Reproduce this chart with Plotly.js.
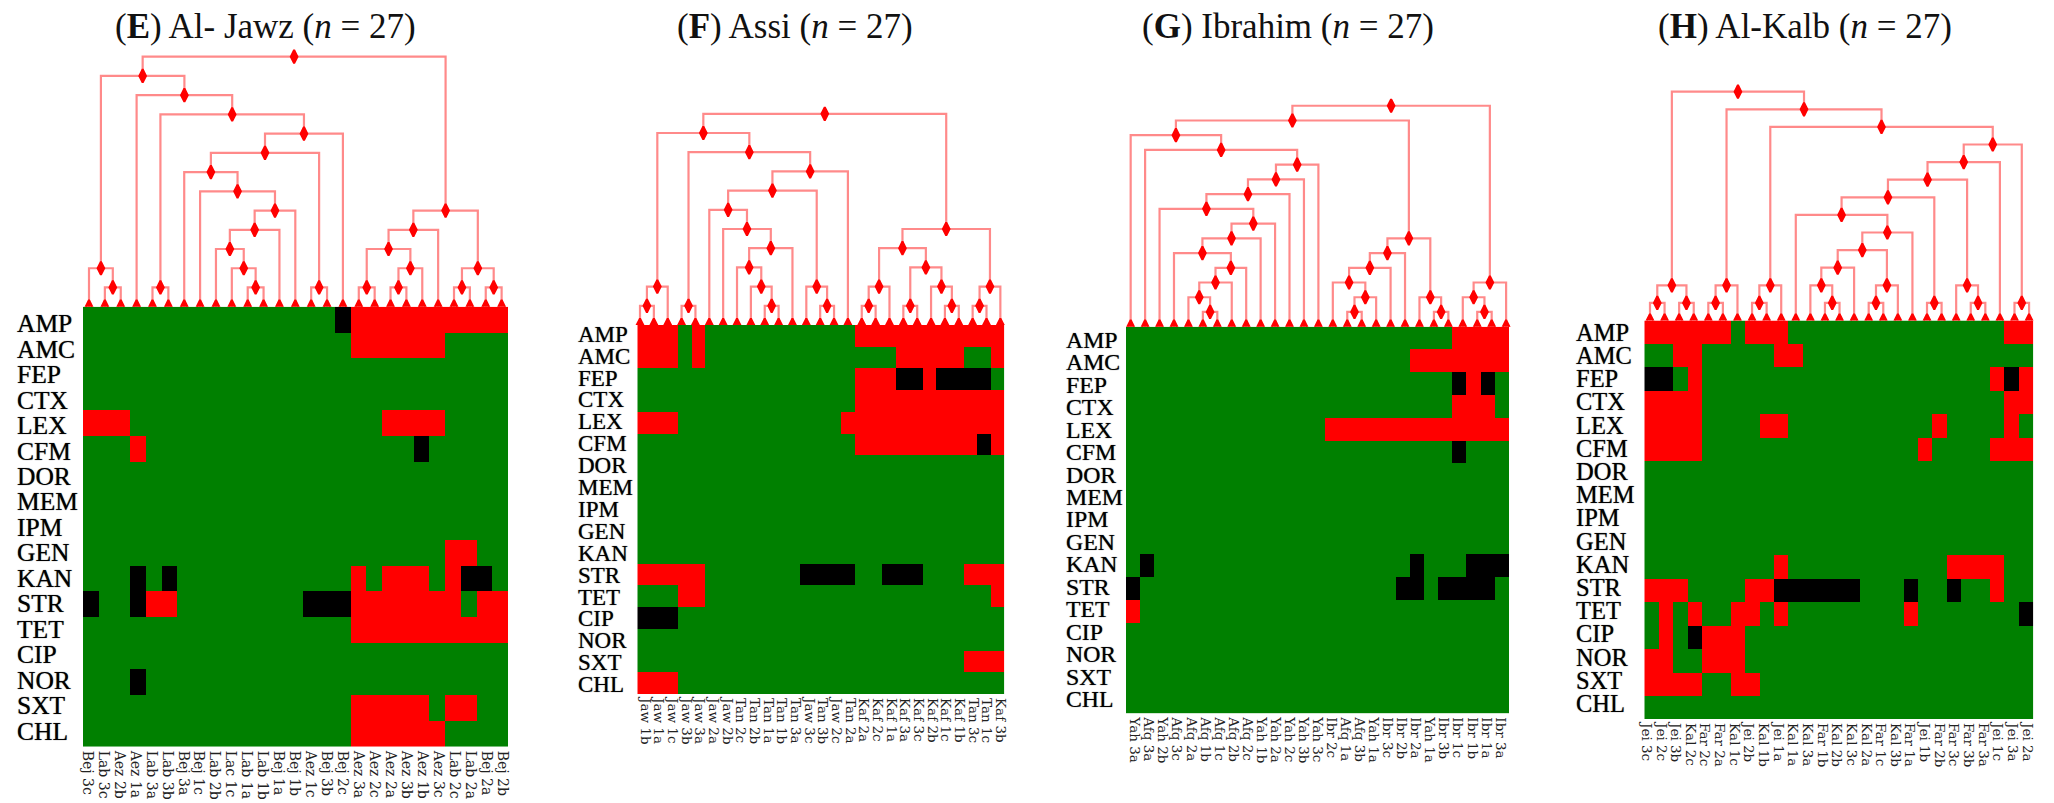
<!DOCTYPE html>
<html><head><meta charset="utf-8">
<script src="https://cdn.plot.ly/plotly-3.0.1.min.js"></script>
<style>html,body{margin:0;padding:0;background:#fff}#c{width:2054px;height:803px}</style>
</head><body><div id="c"></div>
<script>
var drugs = ['AMP','AMC','FEP','CTX','LEX','CFM','DOR','MEM','IPM','GEN','KAN','STR','TET','CIP','NOR','SXT','CHL'];

// 0 = susceptible (green), 1 = resistant (red), 2 = intermediate (black); rows follow drugs
var O = '000000000 000000000 000000000';
var matrixE = [
 '000000000 000000021 111111111','000000000 000000001 111110000',O,O,
 '111000000 000000000 011110000','000100000 000000000 000200000',O,O,O,
 '000000000 000000000 000001100','000202000 000000001 011101220',
 '200211000 000002221 111111011','000000000 000000001 111111111',O,
 '000200000 000000000 000000000','000000000 000000001 111101100','000000000 000000001 111110000'];
var matrixF = [
 '111010000 000000011 111111111','111010000 000000000 011111001',
 '000000000 000000011 122122220','000000000 000000011 111111111',
 '111000000 000000111 111111111','000000000 000000011 111111121',O,O,O,O,O,
 '111110000 000222200 222000111','000110000 000000000 000000001','222000000 000000000 000000000',O,
 '000000000 000000000 000000111','111000000 000000000 000000000'];
var matrixG = [
 '000000000 000000000 000001111','000000000 000000000 001111111',
 '000000000 000000000 000002120','000000000 000000000 000001110',
 '000000000 000001111 111111111','000000000 000000000 000002000',O,O,O,O,
 '020000000 000000000 002000222','200000000 000000000 022022220','100000000 000000000 000000000',O,O,O,O];
var matrixH = [
 '111111011 100000000 000000011','001100000 110000000 000000000',
 '220100000 000000000 000000121','111100000 000000000 000000011',
 '111100001 100000000 001000010','111100000 000000000 010000111',O,O,O,O,
 '000000000 100000000 000111100','111000011 222222000 200200100',
 '010100110 100000000 100000002','010211100 000000000 000000000',
 '110011100 000000000 000000000','111100110 000000000 000000000',O];

var isolatesE = ['Bej 3c','Lab 3c','Aez 2b','Aez 1a','Lab 3a','Lab 3b','Bej 3a','Bej 1c','Lab 2b','Lac 1c','Lab 1a','Lab 1b','Bej 1a','Bej 1b','Aez 1c','Bej 3b','Bej 2c','Aez 3a','Aez 2c','Aez 2a','Aez 3b','Aez 1b','Aez 3c','Lab 2c','Lab 2a','Bej 2a','Bej 2b'];
var isolatesF = ['Jaw 1b','Jaw 1a','Jaw 1c','Jaw 3b','Jaw 3a','Jaw 2a','Jaw 2b','Tan 2c','Tan 2b','Tan 1a','Tan 1b','Tan 3a','Jaw 3c','Tan 3b','Jaw 2c','Tan 2a','Kaf 2a','Kaf 2c','Kaf 1a','Kaf 3a','Kaf 3c','Kaf 2b','Kaf 1c','Kaf 1b','Tan 3c','Tan 1c','Kaf 3b'];
var isolatesG = ['Yah 3a','Afq 3a','Yah 2b','Afq 3c','Afq 2a','Afq 1b','Afq 1c','Afq 2b','Afq 2c','Yah 1b','Yah 2a','Yah 2c','Yah 3b','Yah 3c','Ibr 2c','Afq 1a','Afq 3b','Yah 1a','Ibr 3c','Ibr 2b','Ibr 2a','Yah 1a','Ibr 3b','Ibr 1c','Ibr 1b','Ibr 1a','Ibr 3a'];
var isolatesH = ['Jei 3c','Jei 2c','Jei 3b','Kal 2c','Far 2c','Far 2a','Kal 1c','Jei 2b','Kal 1b','Jei 1a','Kal 1a','Kal 3a','Far 1b','Kal 2b','Kal 3c','Kal 2a','Far 1c','Kal 3b','Far 1a','Jei 1b','Far 2b','Far 3c','Far 3b','Far 3a','Jei 1c','Jei 3a','Jei 2a'];

// cluster trees: numbers are leaves (column index), pairs are merges
var coreE = [[[8,[9,[10,11]]],12],13];
var treeE = [[[0,[1,2]],[3,[[4,5],[[[6,[7,coreE]],[14,15]],16]]]], [[[[17,18],[[19,20],21]],22],[[23,24],[25,26]]]];
var coreF = [[7,[8,[9,10]]],11];
var treeF = [[[[0,1],2],[[3,4],[[[5,[6,coreF]],[12,[13,14]]],15]]], [[[[16,17],18],[[19,20],[21,[22,23]]]],[[24,25],26]]];
var coreG = [[[4,[5,6]],7],8];
var rightG = [[[[14,[[15,16],17]],18],19],[20,[21,22]]];
var treeG = [[[0,[1,[[[[2,[[[3,coreG],9],10]],11],12],13]]],rightG], [[23,[24,25]],26]];
var coreH = [[[[11,[12,13]],14],[[15,16],17]],18];
var treeH = [[[0,1],[2,3]], [[[4,5],6],[[[7,8],9],[[[[[10,coreH],[19,20]],[21,[22,23]]],24],[25,26]]]]];

var W = 2054, H = 803;
// pixel boxes: heatmap, dendrogram leaves, isolate labels, drug labels, title
var panels = [
 {t:'(<b>E</b>) Al- Jawz (<i>n</i> = 27)', m:matrixE, iso:isolatesE, tree:treeE,
  hm:[83,508.3,306.7,746.7], dl:81.07, ds:15.87, lev:19.23, xl:79.3, xs:15.96,
  rx:15, ry0:323.7, rp:25.46, rf:25.5, tx:265, tf:14},
 {t:'(<b>F</b>) Assi (<i>n</i> = 27)', m:matrixF, iso:isolatesF, tree:treeF,
  hm:[637.3,1004.3,325,694], dl:633.07, ds:13.86, lev:19.2, xl:638.2, xs:13.67,
  rx:576, ry0:334.2, rp:21.9, rf:23, tx:795, tf:13.5},
 {t:'(<b>G</b>) Ibrahim (<i>n</i> = 27)', m:matrixG, iso:isolatesG, tree:treeG,
  hm:[1126,1509.3,326.7,713.3], dl:1123.45, ds:14.44, lev:14.73, xl:1127.7, xs:14.05,
  rx:1064, ry0:339.7, rp:22.47, rf:23.8, tx:1288, tf:13.5},
 {t:'(<b>H</b>) Al-Kalb (<i>n</i> = 27)', m:matrixH, iso:isolatesH, tree:treeH,
  hm:[1644.3,2033.3,320.5,719], dl:1642.7, ds:14.58, lev:17.6, xl:1639, xs:14.64,
  rx:1574.3, ry0:332.3, rp:23.2, rf:24.5, tx:1805, tf:13.5}
];

var serif = 'Liberation Serif, serif';
var traces = [], annotations = [];
var layout = {width:W, height:H, margin:{l:0,r:0,t:0,b:0}, paper_bgcolor:'#fff', plot_bgcolor:'rgba(0,0,0,0)', showlegend:false, hovermode:false};
function fx(p){return p/W;} function fy(p){return 1-p/H;}

function walk(n, segs, nodes){
  if (typeof n === 'number'){ nodes.push([n,0]); return {x:n,h:0}; }
  var a = walk(n[0],segs,nodes), b = walk(n[1],segs,nodes);
  var h = Math.max(a.h,b.h)+1, x = (a.x+b.x)/2;
  segs.x.push(a.x,a.x,b.x,b.x,null); segs.y.push(a.h,h,h,b.h,null);
  nodes.push([x,h]);
  return {x:x,h:h};
}

panels.forEach(function(p,k){
  var i0 = k*3+1, a = i0, b = i0+1, c = i0+2; // heatmap, dendrogram, isolate-label axes
  var nx = function(i){return i===1?'x':'x'+i;}, ny = function(i){return i===1?'y':'y'+i;};
  var key = function(s,i){return s+'axis'+(i===1?'':i);};
  var z = p.m.map(function(r){return r.replace(/ /g,'').split('').map(Number);});
  var idx = p.iso.map(function(_,i){return i;});
  traces.push({type:'heatmap', z:z, x:idx, y:drugs, xaxis:nx(a), yaxis:ny(a), zmin:0, zmax:2,
    colorscale:[[0,'#008000'],[0.5,'#ff0000'],[1,'#000000']], showscale:false, hoverinfo:'skip'});
  layout[key('x',a)] = {domain:[fx(p.hm[0]),fx(p.hm[1])], range:[-0.5,26.5], anchor:ny(a), showgrid:false, zeroline:false, showticklabels:false, ticks:''};
  layout[key('y',a)] = {domain:[fy(p.hm[3]),fy(p.hm[2])], type:'category', categoryorder:'array', categoryarray:drugs, range:[16.5,-0.5], anchor:nx(a), showgrid:false, zeroline:false, showticklabels:false, ticks:''};

  // dendrogram
  var segs = {x:[],y:[]}, nodes = [];
  var root = walk(p.tree,segs,nodes);
  var dlen = root.h*p.lev;
  traces.push({type:'scatter', mode:'lines', x:segs.x, y:segs.y, xaxis:nx(b), yaxis:ny(b), line:{color:'#ff8a8a',width:2.2}, hoverinfo:'skip', connectgaps:false});
  traces.push({type:'scatter', mode:'markers', x:nodes.map(function(n){return n[0];}), y:nodes.map(function(n){return n[1];}), xaxis:nx(b), yaxis:ny(b),
    marker:{symbol:'diamond-tall',size:9.5,color:'#ff0000',line:{color:'#ff0000',width:2}}, hoverinfo:'skip'});
  layout[key('x',b)] = {domain:[fx(p.dl),fx(p.dl+27*p.ds)], range:[-0.5,26.5], anchor:ny(b), visible:false};
  layout[key('y',b)] = {domain:[fy(p.hm[2]),fy(p.hm[2]-dlen-12)], range:[0,root.h+12/p.lev], anchor:nx(b), visible:false};

  // isolate labels on their own axis below the heatmap
  traces.push({type:'scatter', mode:'none', x:[0,26], y:[drugs[0],drugs[16]], xaxis:nx(c), yaxis:ny(a), hoverinfo:'skip'});
  layout[key('x',c)] = {domain:[fx(p.xl),fx(p.xl+27*p.xs)], range:[-0.5,26.5], anchor:ny(a), side:'bottom', showgrid:false, zeroline:false, showline:false,
    tickmode:'array', tickvals:idx, ticktext:p.iso, tickangle:90, ticks:'', ticklabelstandoff:3, tickfont:{family:'DejaVu Serif, serif', size:p.tf, color:'#222'}};

  // drug labels, left-aligned
  drugs.forEach(function(d,i){
    annotations.push({text:d, xref:'paper', yref:'paper', x:fx(p.rx), y:fy(p.ry0+i*p.rp), xanchor:'left', yanchor:'middle', showarrow:false,
      font:{family:serif, size:p.rf, color:'#000', shadow:'0 0 1px rgba(0,0,0,0.7)'}});
  });
  annotations.push({text:p.t, xref:'paper', yref:'paper', x:fx(p.tx), y:fy(26), xanchor:'center', yanchor:'middle', showarrow:false,
    font:{family:serif, size:35, color:'#111'}});
});
layout.annotations = annotations;
Plotly.newPlot('c', traces, layout, {displayModeBar:false, staticPlot:true});
</script></body></html>
